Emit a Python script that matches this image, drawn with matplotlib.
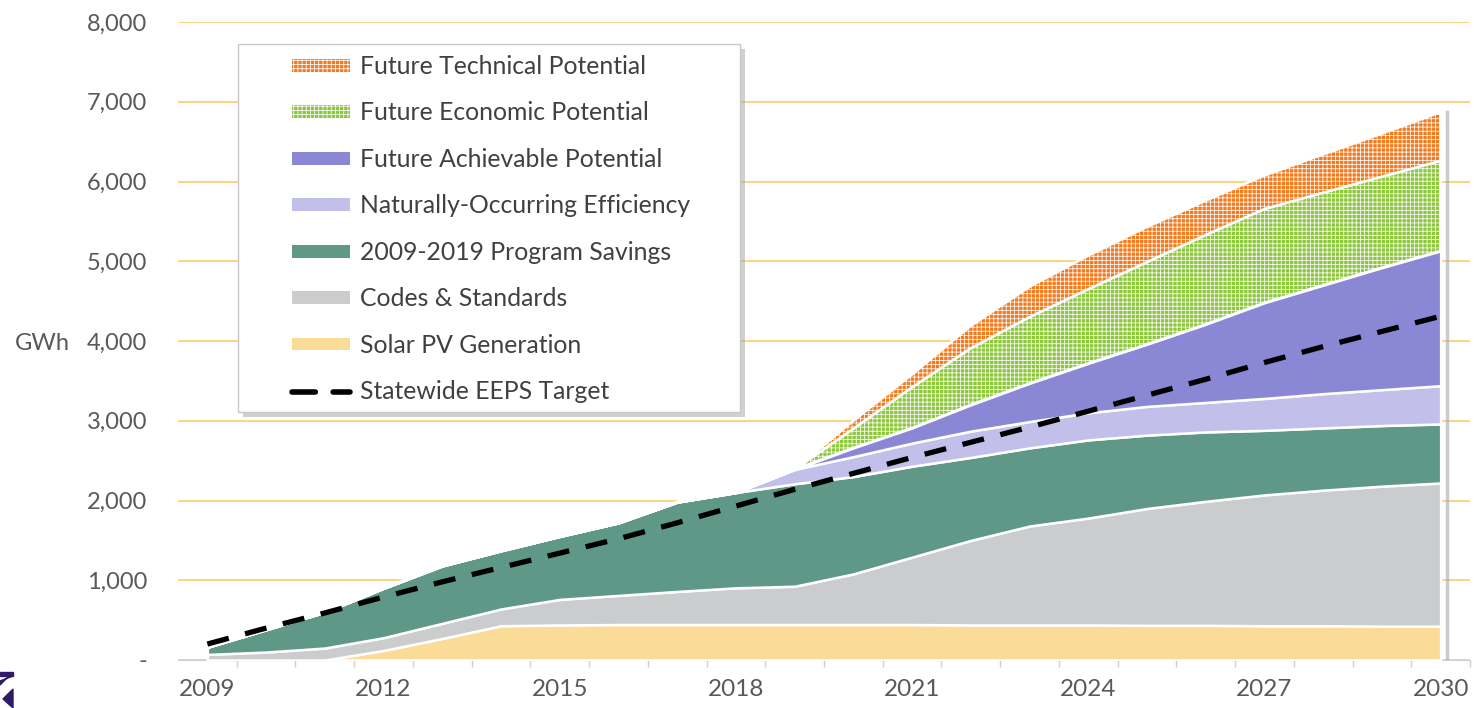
import matplotlib.pyplot as plt
from matplotlib.patches import Patch, Polygon, Rectangle
from matplotlib.lines import Line2D
from matplotlib.ticker import FuncFormatter, MultipleLocator

plt.rcParams['font.family'] = ['Lato', 'DejaVu Sans']
plt.rcParams['hatch.linewidth'] = 0.55

# data (GWh)
years = list(range(2009, 2031))
solar_pv = [0, 0, 0, 120, 270, 430, 440, 445, 445, 445, 445,
            445, 445, 440, 440, 440, 435, 435, 430, 430, 425, 425]
codes_standards = [70, 100, 150, 160, 190, 210, 320, 365, 415, 460, 480,
                   635, 845, 1060, 1240, 1340, 1465, 1555, 1640, 1700, 1755, 1795]
program_savings = [90, 280, 450, 620, 720, 730, 790, 910, 1120, 1195, 1285,
                   1220, 1140, 1040, 980, 980, 920, 870, 810, 780, 760, 740]
natural_eff = [0, 0, 0, 0, 0, 0, 0, 0, 0, 0, 180,
               250, 290, 330, 330, 340, 360, 370, 400, 430, 450, 480]
achievable = [0, 0, 0, 0, 0, 0, 0, 0, 0, 0, 0,
              110, 190, 330, 480, 620, 780, 980, 1200, 1360, 1530, 1690]
economic = [0, 0, 0, 0, 0, 0, 0, 0, 0, 0, 0,
            240, 510, 710, 830, 930, 1030, 1120, 1175, 1160, 1140, 1130]
technical = [0, 0, 0, 0, 0, 0, 0, 0, 0, 0, 0,
             100, 160, 280, 380, 420, 440, 430, 420, 480, 540, 610]
eeps_target = [200, 400, 590, 790, 980, 1160, 1340, 1520, 1720, 1930, 2140,
               2340, 2540, 2730, 2920, 3120, 3320, 3520, 3730, 3930, 4120, 4310]
year_labels = [2009, 2012, 2015, 2018, 2021, 2024, 2027, 2030]

labels = ["Solar PV Generation", "Codes & Standards", "2009-2019 Program Savings",
          "Naturally-Occurring Efficiency", "Future Achievable Potential",
          "Future Economic Potential", "Future Technical Potential"]
colors = ["#FBDB98", "#CBCCCD", "#5F9886", "#C2C0EA", "#8A88D5", "#8DC73C", "#F47A1E"]
hatches = [None, None, None, None, None, "++++", "++++"]

fig = plt.figure(figsize=(14.74, 7.08), dpi=100)
ax = fig.add_axes([178 / 1474, 48 / 708, 1292 / 1474, 638 / 708])

series = [solar_pv, codes_standards, program_savings, natural_eff,
          achievable, economic, technical]
polys = ax.stackplot(years, *series, colors=colors, edgecolor="white",
                     linewidth=1.8, zorder=3)
for p, h in zip(polys, hatches):
    if h:
        p.set_hatch(h)

# soft shadow along the right edge
total = [sum(v) for v in zip(*series)]
ax.plot([years[-1] + 0.1] * 2, [0, total[-1]], color="#9a9a9a", lw=2.5,
        alpha=0.5, zorder=2)

ax.plot(years, eeps_target, color="black", lw=3.8, linestyle=(0, (4.2, 3.2)),
        zorder=5)

ax.set_xlim(2008.5, 2030.5)
ax.set_ylim(0, 8000)
ax.yaxis.set_major_locator(MultipleLocator(1000))
ax.yaxis.set_major_formatter(FuncFormatter(lambda v, p: "-" if v == 0 else f"{v:,.0f}"))
ax.set_xticks(year_labels)
ax.set_xticks([y - 0.5 for y in years[1:]] + [2030.5], minor=True)
ax.tick_params(axis="x", which="major", length=0, pad=14, labelsize=17.5,
               labelcolor="#595959")
ax.tick_params(axis="x", which="minor", length=5, color="#D0D0D0", width=1)
ax.tick_params(axis="y", length=0, pad=22, labelsize=17, labelcolor="#595959")

ax.grid(axis="y", color="#F9C965", lw=1.1, zorder=0)
ax.set_axisbelow(True)
for s in ["top", "right", "left"]:
    ax.spines[s].set_visible(False)
ax.spines["bottom"].set_color("#D0D0D0")
ax.spines["bottom"].set_zorder(1)

fig.text(42 / 1474, 1 - 343 / 708, "GWh", ha="center", va="center",
         fontsize=17, color="#595959")

# legend box with drop shadow (pixel coordinates)
fig.patches.append(Rectangle((243, 291), 502, 368, transform=None, facecolor="#9a9a9a",
                             alpha=0.45, edgecolor="none", zorder=1, figure=fig))
fig.patches.append(Rectangle((238, 296), 502, 368, transform=None, facecolor="white",
                             edgecolor="#C8C8C8", lw=1.0, zorder=1.5, figure=fig))

handles = []
for lab, c, h in zip(labels[::-1], colors[::-1], hatches[::-1]):
    handles.append(Patch(facecolor=c, edgecolor="white" if h else c, hatch=h,
                         linewidth=0, label=lab))
handles.append(Line2D([0], [0], color="black", lw=4, linestyle=(0, (4.2, 3.2)),
                      dash_capstyle="round", label="Statewide EEPS Target"))
fig.legend(handles=handles, loc="upper left", bbox_to_anchor=(292 / 1474, 1 - 55 / 708),
           bbox_transform=fig.transFigure, borderaxespad=0, borderpad=0,
           fontsize=17.8, frameon=False, handlelength=2.35, handleheight=0.42,
           labelspacing=0.95, handletextpad=0.42, labelcolor="#404040")

# cropped logo fragment at the lower-left corner
logo_color = "#2D1B69"
fig.patches.append(Polygon([(0, 36), (13, 36), (13, 32), (0, 32)], closed=True,
                           transform=None, color=logo_color, figure=fig))
fig.patches.append(Polygon([(13, 32), (9, 32), (0, 23), (0, 27)], closed=True,
                           transform=None, color=logo_color, figure=fig))
fig.patches.append(Polygon([(13, 19), (3, 9), (13, 0)], closed=True,
                           transform=None, color=logo_color, figure=fig))

fig.savefig("out.png", dpi=100)
